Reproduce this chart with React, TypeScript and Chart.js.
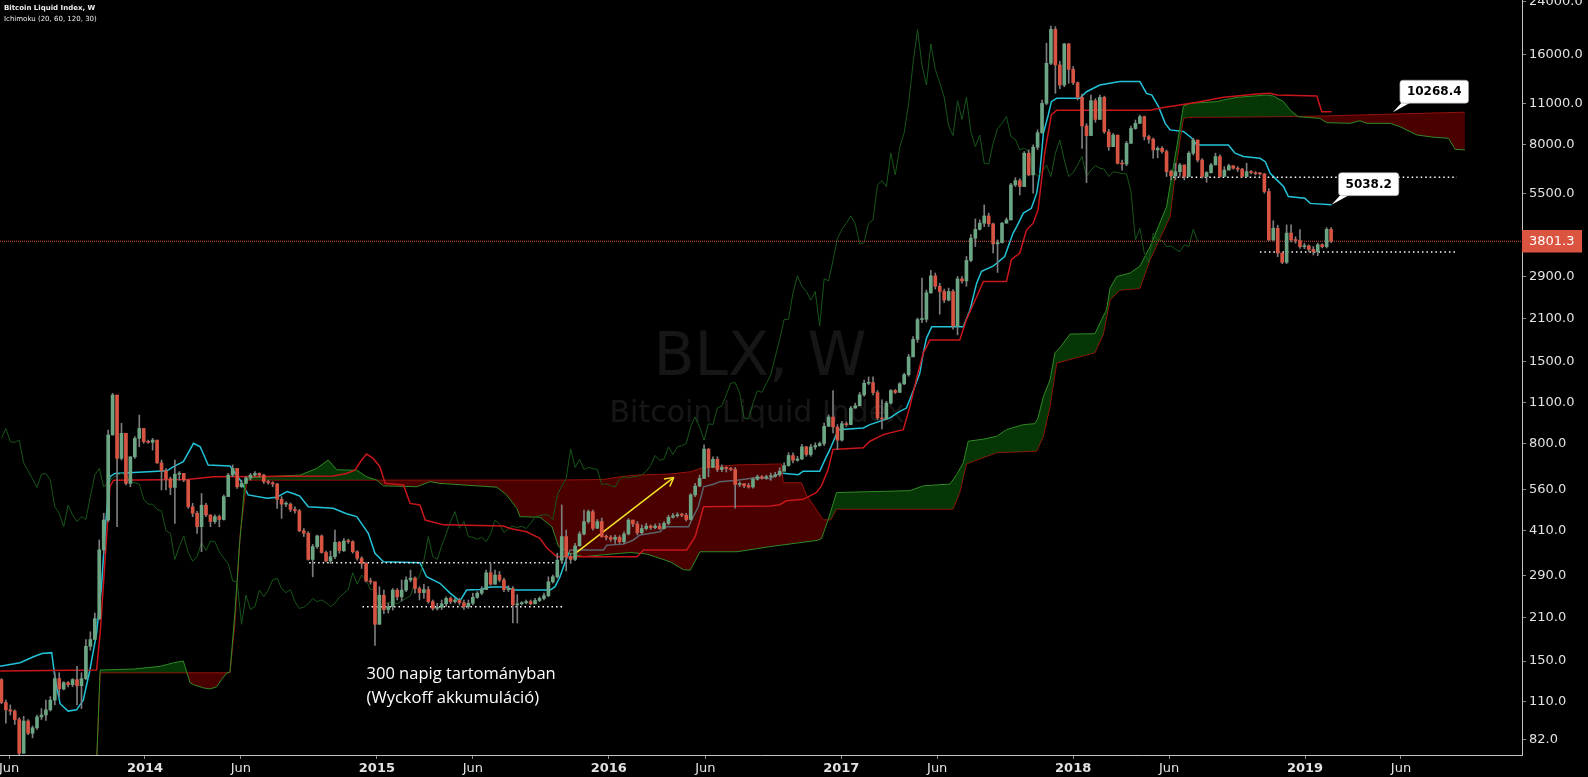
import React, { useEffect, useRef } from 'react';
import { Chart, registerables } from 'chart.js';

Chart.register(...registerables);

// ---------- data (weekly candles, index 0 = week of 2013-05-20) ----------
const FIRST_WEEK = '2013-05-20';
const FIRST_OPEN = 130;
const closes = [
  109, 103, 102, 95.6, 73.7, 94.5, 86, 89.7, 97.5, 99,
  103, 111, 131, 121, 127, 125, 130, 124, 131, 168,
  177, 208, 353, 444, 855, 1163, 714, 866, 589, 723,
  833, 899, 812, 808, 822, 690, 649, 610, 571, 632,
  636, 604, 492, 468, 422, 498, 462, 439, 456, 446,
  532, 628, 661, 574, 589, 615, 628, 636, 628, 597,
  592, 586, 521, 502, 502, 482, 477, 409, 401, 328,
  362, 393, 346, 324, 335, 374, 351, 378, 376, 348,
  331, 318, 278, 276, 199, 249, 223, 228, 259, 246,
  259, 280, 284, 262, 254, 260, 237, 225, 227, 233,
  243, 237, 240, 235, 228, 234, 245, 253, 260, 296,
  271, 291, 280, 260, 262, 231, 233, 235, 237, 233,
  239, 243, 248, 276, 287, 326, 391, 335, 328, 364,
  399, 439, 474, 417, 439, 391, 389, 383, 389, 376,
  399, 444, 431, 403, 416, 424, 419, 424, 416, 433,
  454, 459, 463, 461, 446, 539, 577, 612, 767, 666,
  709, 656, 666, 660, 656, 584, 587, 579, 573, 608,
  620, 614, 620, 622, 630, 647, 676, 730, 704, 711,
  780, 736, 780, 788, 801, 914, 982, 909, 822, 933,
  926, 1052, 1071, 1165, 1274, 1280, 1185, 975, 967, 1093,
  1204, 1187, 1268, 1360, 1560, 1785, 2080, 2085, 2557, 2912,
  2688, 2582, 2416, 2582, 1980, 2845, 2800, 3280, 3890, 4165,
  4368, 4618, 4345, 3725, 3763, 4368, 4480, 5864, 6064, 5792,
  7488, 6336, 7840, 8768, 10990, 14960, 19430, 14770, 12660, 17370,
  14280, 12890, 11510, 9232, 8576, 11220, 9712, 11510, 8832, 7872,
  8610, 6928, 6890, 8080, 9056, 9424, 9920, 8512, 8336, 7680,
  7776, 7584, 6496, 6288, 6496, 6840, 6256, 7488, 8288, 7104,
  6256, 6448, 6840, 7296, 6256, 6576, 6800, 6670, 6620, 6256,
  6496, 6448, 6400, 6384, 5576, 3840, 4200, 3472, 3232, 4048,
  3840, 3822, 3648, 3666, 3570, 3510, 3700, 3648, 4165, 3801.3,
];
const highs = [
  131, 111, 107, 103, 97, 98, 95.6, 91, 99, 104,
  111, 114, 137, 137, 128, 128, 131, 144, 137, 177,
  188, 217, 381, 468, 888, 1178, 1163, 935, 866, 723,
  844, 997, 899, 822, 833, 822, 705, 660, 618, 705,
  645, 636, 606, 505, 475, 545, 505, 462, 462, 462,
  539, 636, 679, 661, 604, 620, 636, 645, 639, 632,
  604, 597, 589, 532, 511, 507, 492, 482, 416, 406,
  368, 396, 396, 350, 350, 411, 377, 385, 383, 379,
  351, 335, 320, 284, 276, 266, 259, 234, 262, 262,
  280, 287, 302, 287, 266, 271, 266, 240, 234, 240,
  246, 246, 243, 243, 240, 240, 253, 256, 266, 302,
  318, 302, 299, 284, 268, 266, 250, 237, 240, 240,
  243, 246, 253, 287, 291, 344, 499, 411, 344, 371,
  406, 480, 480, 480, 446, 451, 396, 394, 396, 394,
  406, 449, 444, 439, 428, 433, 428, 431, 433, 439,
  461, 468, 470, 468, 468, 545, 589, 628, 792, 770,
  723, 723, 679, 670, 666, 666, 597, 589, 589, 615,
  628, 625, 628, 638, 642, 664, 690, 746, 746, 726,
  795, 784, 795, 805, 810, 938, 998, 1203, 926, 950,
  945, 1066, 1093, 1187, 1306, 1337, 1337, 1204, 1122, 1108,
  1214, 1214, 1280, 1376, 1590, 1824, 2104, 2865, 2610, 3040,
  2976, 2750, 2630, 2650, 2620, 2900, 2896, 3380, 4000, 4512,
  4480, 5026, 4720, 4368, 3840, 4400, 4550, 5936, 6200, 6150,
  7584, 7680, 7980, 8960, 11280, 17460, 19940, 19840, 15200, 17460,
  17460, 14580, 12960, 11800, 9400, 11720, 11400, 11720, 11620, 9000,
  8720, 8610, 7104, 8200, 9232, 9664, 10050, 9970, 8600, 8420,
  7872, 7872, 7680, 6576, 6928, 6928, 6840, 7584, 8400, 8288,
  7190, 6500, 6928, 7488, 7390, 6752, 6880, 6800, 6752, 6670,
  6928, 6550, 6496, 6460, 6416, 5700, 4450, 4300, 3472, 4310,
  4310, 3936, 4160, 3744, 3700, 3648, 3744, 3730, 4220, 4225,
];
const lows = [
  108, 93, 99, 92, 72.8, 73.7, 85, 83, 88.6, 95.6,
  95, 102, 107, 114, 120, 123, 123, 107, 104, 130,
  163, 181, 206, 344, 439, 855, 422, 705, 582, 574,
  714, 781, 802, 802, 761, 687, 560, 560, 540, 433,
  604, 597, 486, 456, 401, 348, 456, 422, 433, 422,
  444, 532, 620, 567, 571, 589, 604, 623, 620, 589,
  585, 574, 486, 450, 492, 474, 468, 406, 391, 326,
  287, 357, 344, 322, 318, 330, 344, 348, 371, 344,
  326, 306, 276, 271, 169, 199, 216, 217, 222, 240,
  238, 256, 276, 253, 240, 243, 234, 222, 222, 223,
  228, 233, 234, 231, 223, 225, 231, 243, 250, 262,
  269, 271, 276, 256, 256, 201, 201, 231, 233, 231,
  233, 237, 240, 246, 273, 284, 320, 300, 318, 325,
  364, 396, 433, 411, 416, 389, 381, 377, 371, 371,
  371, 396, 422, 396, 399, 411, 413, 415, 413, 415,
  428, 451, 454, 456, 441, 444, 532, 574, 612, 620,
  666, 645, 645, 643, 649, 487, 574, 570, 568, 568,
  604, 608, 608, 603, 618, 622, 647, 672, 690, 698,
  707, 726, 726, 765, 784, 788, 914, 869, 765, 815,
  914, 926, 1052, 1071, 1150, 1260, 1165, 962, 896, 962,
  1085, 1176, 1187, 1260, 1344, 1568, 1744, 2032, 2040, 2544,
  2630, 2168, 2370, 2400, 1930, 1848, 2750, 2688, 3250, 3648,
  4144, 4256, 4256, 3472, 2990, 3744, 4368, 4480, 5792, 5430,
  5792, 6290, 5504, 7700, 8720, 10880, 14800, 11870, 12300, 12500,
  12830, 12700, 11280, 7775, 5970, 8576, 9500, 9700, 8720, 7650,
  7872, 6890, 6576, 6800, 8080, 9000, 9400, 8290, 8080, 7200,
  7230, 7488, 6256, 6096, 6096, 6256, 6096, 6256, 7390, 7000,
  6180, 5980, 6416, 6840, 6230, 6256, 6576, 6620, 6500, 6230,
  6256, 6384, 6336, 6320, 5504, 3820, 3820, 3376, 3200, 3200,
  3780, 3744, 3600, 3590, 3510, 3420, 3400, 3610, 3610, 3760,
];

// Ichimoku (20, 60, 120, 30) lines: [week index] / [price]
const tenkanIdx = [-0.3, 4.2, 7.2, 9.1, 11.3, 12.1, 13.2, 15, 16.9, 18.4, 19.9, 21.4, 22.5, 23.5, 24.4, 25.5, 37.2, 38.7, 40.9, 43.2, 44.7, 46.5, 51.4, 53.7, 55.5, 59.7, 61.9, 64.2, 65.6, 67.1, 69, 74.6, 77.6, 79.9, 82.5, 84, 85.9, 94.1, 95.6, 98.6, 100.9, 103.1, 104.6, 107.6, 109.9, 113.6, 115.1, 123.4, 124.5, 125.6, 126.8, 127.9, 135.4, 136.1, 139.9, 142.1, 143.6, 148.1, 149.2, 154.5, 155.2, 156.7, 157.9, 160.1, 161.6, 165.4, 169.9, 172.9, 175.1, 179.2, 180.3, 184, 185.2, 186.3, 188.2, 193.8, 195.3, 199.8, 202, 203.5, 204.7, 206.5, 207.3, 208, 209.2, 216.3, 217.8, 219.3, 220.4, 223, 225.6, 226.4, 227.5, 228.3, 229.8, 231.6, 232.8, 233.5, 234.3, 235.4, 236.1, 237.3, 242.5, 244, 247, 251.5, 256, 257.5, 258.7, 260.2, 261.7, 262.8, 265.8, 267.7, 268.8, 275.9, 277.4, 279.3, 283, 284.2, 285.3, 286.8, 288.3, 289.4, 293.1, 294.3, 299.1];
const tenkanVal = [144, 148, 155, 159, 160, 130, 108, 102, 103, 111, 140, 186, 266, 444, 620, 636, 649, 670, 696, 802, 781, 679, 673, 604, 539, 525, 529, 553, 545, 534, 492, 486, 466, 456, 401, 344, 322, 320, 287, 273, 253, 238, 259, 260, 265, 265, 259, 259, 266, 287, 322, 353, 353, 366, 369, 381, 396, 406, 422, 422, 444, 492, 574, 585, 597, 604, 616, 610, 638, 630, 647, 647, 707, 765, 891, 903, 926, 975, 1026, 1052, 1165, 1376, 1610, 1800, 1968, 1968, 2240, 2752, 3016, 3136, 3376, 3648, 4048, 4256, 4720, 4900, 5504, 6416, 8720, 10050, 11140, 11430, 11430, 12020, 12660, 13000, 13000, 11870, 11720, 10720, 9424, 8960, 8850, 8400, 7976, 7976, 7488, 7296, 7200, 7016, 6416, 6096, 5792, 5360, 5290, 5088, 5038.2];

const kijunIdx = [-0.3, 21.4, 22.2, 23.3, 24.4, 25.2, 41.7, 47.7, 74.6, 77.6, 79.5, 81, 82.1, 83.6, 85.1, 86.3, 90.4, 91.9, 94.1, 95.3, 99.4, 112.9, 114.4, 118.1, 121.1, 122.6, 124.9, 142.9, 144.4, 154.1, 156, 157.9, 172.9, 175, 176.5, 180.3, 183.3, 184.4, 185.9, 187, 193.8, 195.3, 198.3, 199.8, 202.8, 204.3, 205.8, 207.3, 208.8, 215.5, 217, 219.3, 220.8, 226, 227.1, 229, 230.5, 232, 233.1, 234.6, 236.1, 237.3, 253.8, 258.3, 261.3, 264.3, 269.5, 274.8, 277.8, 282.3, 285.3, 286.8, 295.8, 296.9, 299.1];
const kijunVal = [139, 140, 186, 326, 574, 604, 607, 620, 624, 636, 652, 705, 738, 714, 670, 589, 582, 505, 499, 444, 428, 424, 416, 406, 386, 359, 335, 335, 353, 353, 391, 492, 495, 500, 515, 521, 549, 578, 656, 765, 775, 815, 857, 869, 891, 1066, 1325, 1610, 1776, 1776, 2080, 2480, 2790, 2790, 3296, 3472, 4144, 4368, 4832, 7488, 10050, 10430, 10430, 10430, 10650, 10820, 11130, 11510, 11630, 11810, 11870, 11720, 11630, 10300, 10300];

const spanAIdx = [20.8, 22.2, 29.7, 35.7, 38.7, 40.9, 42.4, 43.2, 45.4, 46.9, 48.4, 49.5, 50.7, 51.4, 52.5, 53.5, 54.8, 56.7, 59.6, 67.2, 70.9, 73.5, 75.4, 79.9, 82.1, 84.4, 85.9, 93.4, 96.4, 98.6, 111.4, 113.6, 115.9, 116.6, 121.1, 123.8, 125.3, 127.9, 130.9, 135.4, 141.4, 145.1, 150.4, 153.4, 154.9, 157.1, 165.4, 172.9, 183.5, 184.4, 185.9, 187.8, 204.3, 207.3, 213.3, 214.8, 216.3, 217.4, 220.8, 223.8, 226, 229.8, 232.4, 233.1, 234.3, 235.8, 236.9, 238, 240.3, 245.9, 247.4, 248.5, 249.3, 250.8, 253.8, 256, 258.3, 262, 264.3, 265.8, 267.3, 273.3, 274.8, 277.8, 284.5, 286, 288.3, 289.8, 291.6, 296.5, 298, 303.3, 305.5, 307, 312.3, 314.5, 318.3, 322, 325.4, 326.9, 329.1];
const spanAVal = [40, 140, 141, 144, 148, 150, 127, 125, 122, 121, 123, 130, 137, 138, 217, 362, 604, 616, 620, 628, 661, 705, 654, 652, 620, 604, 578, 574, 597, 589, 572, 539, 486, 456, 454, 422, 362, 344, 335, 340, 346, 342, 322, 303, 302, 348, 348, 362, 380, 385, 445, 549, 557, 578, 586, 630, 690, 815, 828, 846, 891, 926, 933, 975, 1150, 1306, 1610, 1672, 1860, 1865, 2080, 2240, 2650, 2896, 2976, 3136, 3648, 4960, 7872, 10770, 10990, 11140, 11280, 11510, 11720, 11630, 11140, 10430, 9920, 9790, 9470, 9424, 9616, 9424, 9424, 9184, 8616, 8470, 8400, 7712, 7680];

const spanBIdx = [20.8, 22.2, 51.4, 52.5, 53.7, 55.2, 125, 135.4, 139.1, 142.9, 150.4, 154.9, 157.9, 165.4, 175.4, 175.8, 179.9, 181, 184.8, 186.5, 187.8, 214, 215.5, 217, 223.8, 232.8, 234.3, 235.8, 237.3, 245.9, 247.8, 249.3, 251.5, 256, 258.3, 262.8, 264.3, 265.8, 267, 288.3, 297, 329.1];
const spanBVal = [40, 137, 137, 200, 400, 604, 604, 607, 620, 628, 633, 644, 666, 679, 684, 592, 592, 540, 445, 445, 483, 483, 549, 684, 746, 755, 846, 1066, 1488, 1610, 1860, 2416, 2608, 2640, 3296, 4592, 7000, 9790, 9870, 9920, 9970, 10268.4];

const LAG = 30;
const LAST_PRICE = 3801.3;

const yTicks = [24000, 16000, 11000, 8000, 5500, 2900, 2100, 1500, 1100, 800, 560, 410, 290, 210, 150, 110, 82];
const xTickDates = ['2013-06-01', '2014-01-01', '2014-06-01', '2015-01-01', '2015-06-01', '2016-01-01', '2016-06-01', '2017-01-01', '2017-06-01', '2018-01-01', '2018-06-01', '2019-01-01', '2019-06-01'];
const xTickLabels = ['Jun', '2014', 'Jun', '2015', 'Jun', '2016', 'Jun', '2017', 'Jun', '2018', 'Jun', '2019', 'Jun'];

// drawings
const supportStart = [69.2, 81.2, 263.5, 283];
const supportEnd = [127.9, 126.4, 327.3, 327.3];
const supportLevel = [320, 228, 6224, 3496];
const arrowFrom = [129.2, 345];
const arrowTo = [151.2, 617];
const calloutIdx = [312.9, 299.1];
const calloutVal = [10268.4, 5038.2];
const calloutText = ['10268.4', '5038.2'];
const noteLines = ['300 napig tartományban', '(Wyckoff akkumuláció)'];
const noteAt = [82.1, 130.2];
const titleLines = ['Bitcoin Liquid Index, W', 'Ichimoku (20, 60, 120, 30)'];
const watermark = ['BLX, W', 'Bitcoin Liquid Index'];

// ---------- styles ----------
const X_MIN = -0.32;
const X_MAX = 341.93;
const Y_MIN = 72.75;
const Y_MAX = 24360;
const UP = '#6ba583';
const DOWN = '#d75442';
const WICK = '#7d7d7f';
const AXIS_TEXT = '#e2e2e2';

function pts(xs: number[], ys: number[]) {
  return xs.map((x, k) => ({ x, y: ys[k] }));
}

const decor = {
  id: 'decor',
  beforeDatasetsDraw(chart: any) {
    const { ctx, chartArea: a } = chart;
    const cx = (a.left + a.right) / 2;
    const cy = (a.top + a.bottom) / 2;
    ctx.save();
    ctx.fillStyle = 'rgba(255,255,255,0.085)';
    ctx.textAlign = 'center';
    ctx.textBaseline = 'alphabetic';
    ctx.font = '60px "DejaVu Sans"';
    ctx.fillText(watermark[0], cx - 1, cy - 2.5);
    ctx.font = '30px "DejaVu Sans"';
    ctx.fillText(watermark[1], cx - 4, cy + 44);
    ctx.restore();
  },
  afterDatasetsDraw(chart: any) {
    const { ctx } = chart;
    const xs = chart.scales.x;
    const ys = chart.scales.y;
    ctx.save();
    // arrow head
    const x0 = xs.getPixelForValue(arrowFrom[0]);
    const y0 = ys.getPixelForValue(arrowFrom[1]);
    const x1 = xs.getPixelForValue(arrowTo[0]);
    const y1 = ys.getPixelForValue(arrowTo[1]);
    const ang = Math.atan2(y1 - y0, x1 - x0);
    ctx.strokeStyle = '#f2e32a';
    ctx.lineWidth = 1.5;
    ctx.beginPath();
    for (const s of [-1, 1]) {
      ctx.moveTo(x1, y1);
      ctx.lineTo(x1 - 10 * Math.cos(ang + s * 0.5), y1 - 10 * Math.sin(ang + s * 0.5));
    }
    ctx.stroke();

    // note text
    ctx.fillStyle = '#ffffff';
    ctx.font = '16.5px "Open Sans"';
    ctx.textAlign = 'left';
    ctx.textBaseline = 'alphabetic';
    const nx = xs.getPixelForValue(noteAt[0]);
    const ny = ys.getPixelForValue(noteAt[1]);
    noteLines.forEach((t, k) => ctx.fillText(t, nx, ny + k * 23.4));

    // callouts
    calloutText.forEach((t, k) => {
      const px = xs.getPixelForValue(calloutIdx[k]);
      const py = ys.getPixelForValue(calloutVal[k]);
      ctx.font = 'bold 12px "DejaVu Sans"';
      const w = ctx.measureText(t).width + 14;
      const h = 23;
      const bx = px + 7;
      const by = py - 9 - h;
      ctx.fillStyle = '#ffffff';
      ctx.beginPath();
      ctx.moveTo(px, py);
      ctx.lineTo(bx + 3, by + h - 2);
      ctx.lineTo(bx + 13, by + h - 2);
      ctx.closePath();
      ctx.fill();
      ctx.beginPath();
      ctx.roundRect(bx, by, w, h, 3);
      ctx.fill();
      ctx.strokeStyle = '#9a9a9a';
      ctx.lineWidth = 0.6;
      ctx.stroke();
      ctx.fillStyle = '#000000';
      ctx.textAlign = 'center';
      ctx.textBaseline = 'middle';
      ctx.fillText(t, bx + w / 2, by + h / 2 + 0.5);
    });
    ctx.restore();
  },
  afterDraw(chart: any) {
    const { ctx, chartArea: a } = chart;
    const ys = chart.scales.y;
    ctx.save();
    // last price label
    const py = ys.getPixelForValue(LAST_PRICE);
    ctx.fillStyle = '#da5440';
    ctx.fillRect(a.right, Math.round(py) - 11, 60, 22.5);
    ctx.fillStyle = '#ffffff';
    ctx.font = '13px "DejaVu Sans"';
    ctx.textAlign = 'left';
    ctx.textBaseline = 'middle';
    ctx.fillText(LAST_PRICE.toFixed(1), a.right + 7, py + 0.5);
    // title / indicator legend
    ctx.fillStyle = '#eeeeee';
    ctx.textBaseline = 'alphabetic';
    ctx.font = 'bold 7px "DejaVu Sans"';
    ctx.fillText(titleLines[0], 4, 10);
    ctx.font = '7px "DejaVu Sans"';
    ctx.fillText(titleLines[1], 4, 21);
    ctx.restore();
  },
};

export default function App() {
  const ref = useRef<HTMLCanvasElement>(null);
  useEffect(() => {
    const opens = [FIRST_OPEN, ...closes.slice(0, -1)];
    const bodies = closes.map((c, i) => ({ x: i, y: [opens[i], c] }));
    const wicks = closes.map((_, i) => ({ x: i, y: [lows[i], highs[i]] }));
    const bodyColors = closes.map((c, i) => (c >= opens[i] ? UP : DOWN));
    const lagging = closes.slice(LAG).map((c, k) => ({ x: k, y: c }));
    const base = Date.parse(FIRST_WEEK);
    const xTickValues = xTickDates.map((d) => (Date.parse(d) - base) / (7 * 86400000));

    const line = (extra: any) => ({
      type: 'line',
      pointRadius: 0,
      pointHoverRadius: 0,
      tension: 0,
      fill: false,
      ...extra,
    });

    const supports = supportLevel.map((lv, k) =>
      line({
        data: [{ x: supportStart[k], y: lv }, { x: supportEnd[k], y: lv }],
        borderColor: '#ffffff',
        borderWidth: 1.5,
        borderDash: [1.5, 3],
        order: 4,
      })
    );

    const datasets: any[] = [
      { type: 'bar', data: bodies, backgroundColor: bodyColors, barThickness: 3, grouped: false, minBarLength: 1, order: 1 },
      { type: 'bar', data: wicks, backgroundColor: WICK, barThickness: 1, grouped: false, order: 2 },
      line({ data: [{ x: arrowFrom[0], y: arrowFrom[1] }, { x: arrowTo[0], y: arrowTo[1] }], borderColor: '#f2e32a', borderWidth: 1.5, order: 3 }),
      ...supports,
      line({ data: [{ x: X_MIN, y: LAST_PRICE }, { x: X_MAX, y: LAST_PRICE }], borderColor: '#d9533f', borderWidth: 1, borderDash: [1, 1], order: 5 }),
      line({ data: pts(kijunIdx, kijunVal), borderColor: '#c8161b', borderWidth: 1.5, order: 6 }),
      line({ data: lagging, borderColor: '#17561a', borderWidth: 1, order: 7 }),
    ];
    const spanAIndex = datasets.length;
    datasets.push(
      line({
        data: pts(spanAIdx, spanAVal),
        borderColor: '#2f8a24',
        borderWidth: 1,
        order: 8,
        fill: { target: spanAIndex + 1, above: 'rgba(12,105,12,0.5)', below: 'rgba(150,0,0,0.5)' },
      })
    );
    datasets.push(line({ data: pts(spanBIdx, spanBVal), borderColor: '#a30d0d', borderWidth: 1, order: 9 }));
    datasets.push(line({ data: pts(tenkanIdx, tenkanVal), borderColor: '#22c3d8', borderWidth: 1.5, order: 10 }));

    const chart = new Chart(ref.current as HTMLCanvasElement, {
      type: 'bar',
      data: { datasets },
      options: {
        responsive: false,
        animation: false,
        devicePixelRatio: 1,
        events: [],
        layout: { padding: 0 },
        plugins: { legend: { display: false }, tooltip: { enabled: false }, title: { display: false } },
        scales: {
          x: {
            type: 'linear',
            min: X_MIN,
            max: X_MAX,
            offset: false,
            grid: { display: true, drawOnChartArea: false, drawTicks: true, tickLength: 4, color: '#8c8c8c', offset: false },
            border: { display: true, color: '#c4c4c4', width: 1 },
            ticks: {
              autoSkip: false,
              maxRotation: 0,
              padding: 2,
              color: AXIS_TEXT,
              font: (c: any) => ({ family: 'DejaVu Sans', size: 13, weight: /^\d+$/.test(xTickLabels[c.index] || '') ? 'bold' : 'normal' }),
              callback: (_v: any, i: number) => xTickLabels[i],
            },
            afterBuildTicks: (s: any) => {
              s.ticks = xTickValues.map((v) => ({ value: v }));
            },
            afterFit: (s: any) => {
              s.height = 22;
              s.paddingLeft = 0;
              s.paddingRight = 0;
            },
          } as any,
          y: {
            type: 'logarithmic',
            position: 'right',
            min: Y_MIN,
            max: Y_MAX,
            grid: { display: true, drawOnChartArea: false, drawTicks: true, tickLength: 4, color: '#8c8c8c' },
            border: { display: true, color: '#c4c4c4', width: 1 },
            ticks: {
              autoSkip: false,
              padding: 3,
              color: AXIS_TEXT,
              font: { family: 'DejaVu Sans', size: 13 },
              callback: (v: any) => Number(v).toFixed(1),
            },
            afterBuildTicks: (s: any) => {
              s.ticks = yTicks.map((v) => ({ value: v }));
            },
            afterFit: (s: any) => {
              s.width = 66;
              s.paddingTop = 0;
              s.paddingBottom = 0;
            },
          } as any,
        },
      } as any,
      plugins: [decor as any],
    } as any);
    return () => chart.destroy();
  }, []);

  return (
    <div style={{ position: 'fixed', left: 0, top: 0, width: 1588, height: 777, background: '#000' }}>
      <canvas ref={ref} width={1588} height={777} style={{ display: 'block', width: 1588, height: 777 }} />
    </div>
  );
}
